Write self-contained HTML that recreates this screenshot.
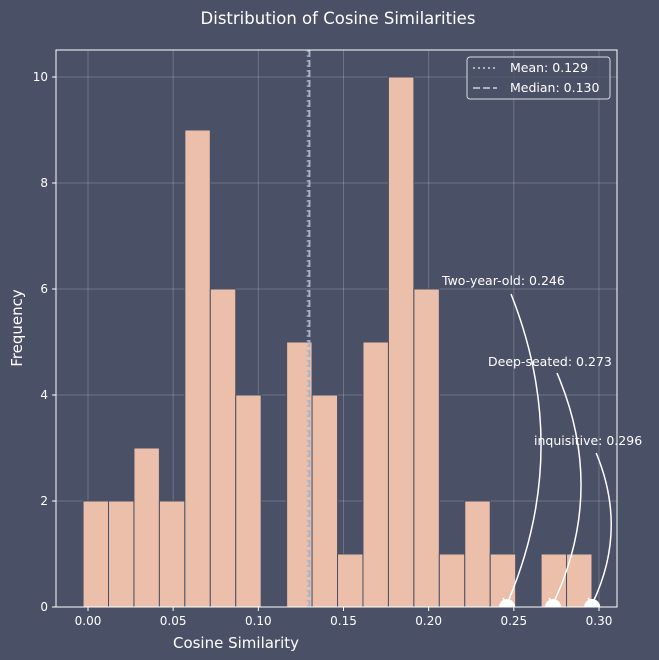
<!DOCTYPE html>
<html><head><meta charset="utf-8"><style>
body{margin:0;background:#4a5066;}
svg{display:block;font-family:"DejaVu Sans","Liberation Sans",sans-serif;}
</style></head><body>
<svg id="c" width="659" height="660">
<rect width="659" height="660" fill="#4a5066"/>
<text x="338" y="24" fill="#ffffff" font-size="16.5" text-anchor="middle">Distribution of Cosine Similarities</text>
<defs><clipPath id="pc"><rect x="56" y="50" width="561" height="557"/></clipPath></defs>
<g id="grid"></g><g id="bars"></g><g id="lines"></g><g id="ann"></g><g id="axes"></g>
</svg>
<script>
const binCounts=[2,2,3,2,9,6,4,0,5,4,1,5,10,6,1,2,1,0,1,1];
const binStart=-0.0029, binWidth=0.01494;
const xTicks=[0,0.05,0.10,0.15,0.20,0.25,0.30];
const xTickLabels=["0.00","0.05","0.10","0.15","0.20","0.25","0.30"];
const yTicks=[0,2,4,6,8,10];
const meanVal=0.129, medianVal=0.130;
const annLabels=["Two-year-old: 0.246","Deep-seated: 0.273","inquisitive: 0.296"];
const annValues=[0.246,0.273,0.296];
const NS="http://www.w3.org/2000/svg";
const X=v=>88+v*1703.3, Y=v=>607-v*53;
function mk(tag,attrs,parent){const e=document.createElementNS(NS,tag);for(const k in attrs)e.setAttribute(k,attrs[k]);document.getElementById(parent).appendChild(e);return e;}
xTicks.forEach((t,i)=>{
 const l=mk('line',{x1:X(t),x2:X(t),y1:50,y2:607,stroke:'rgba(255,255,255,0.2)'},'grid');
 
 
 const tk=mk('line',{x1:X(t),x2:X(t),y1:607,y2:611,stroke:'#fff'},'axes');
 
 
 const tx=mk('text',{x:X(t),y:625,fill:'#fff','font-size':12,'text-anchor':'middle'},'axes');
 tx.textContent=xTickLabels[i];
 
 
});
yTicks.forEach(t=>{
 const l=mk('line',{x1:56,x2:617,y1:Y(t),y2:Y(t),stroke:'rgba(255,255,255,0.2)'},'grid');
 
 
 const tk=mk('line',{x1:52,x2:56,y1:Y(t),y2:Y(t),stroke:'#fff'},'axes');
 
 
 const tx=mk('text',{x:48,y:Y(t)+4,fill:'#fff','font-size':12,'text-anchor':'end'},'axes');
 tx.textContent=String(t);
 
 
});
binCounts.forEach((c,i)=>{
 if(!c)return;
 const x0=X(binStart+i*binWidth),x1=X(binStart+(i+1)*binWidth);
 const r=mk('rect',{x:x0,y:Y(c),width:x1-x0,height:Y(0)-Y(c),fill:'#ecbfaa',stroke:'#4a5066','stroke-width':1},'bars');
 
 
});
let m=mk('line',{x1:X(meanVal),x2:X(meanVal),y1:50,y2:607,stroke:'#a9b4cc','stroke-width':2,'stroke-dasharray':'2,3','stroke-opacity':0.7},'lines');


let md=mk('line',{x1:X(medianVal),x2:X(medianVal),y1:50,y2:607,stroke:'#a9b4cc','stroke-width':2,'stroke-dasharray':'7,3'},'lines');


const textPos=[[442,285],[488,366],[534,445]];
const startY=[294,373,453], bulge=[32,26,17];
annValues.forEach((v,i)=>{
 const ex=X(v), ey=607, sx=ex+4, sy=startY[i];
 const cx=ex+bulge[i]*2+(sx-ex)*0.5, cy=(sy+ey)/2;
 const p=mk('path',{d:`M${sx},${sy} Q${cx},${cy} ${ex},${ey-3}`,fill:'none',stroke:'#fff','stroke-width':1.5},'ann');
 
 
 const h=mk('path',{d:`M${ex-4},${ey-9} L${ex},${ey-3} L${ex+3},${ey-10}`,fill:'none',stroke:'#fff','stroke-width':1.5},'ann');
 
 
 const d=mk('circle',{cx:ex,cy:ey,r:8,fill:'#fff','clip-path':'url(#pc)'},'ann');
 
 
 const t=mk('text',{x:textPos[i][0],y:textPos[i][1],fill:'#fff','font-size':12.5},'ann');
 t.textContent=annLabels[i];
 
 
});
</script>
<svg style="position:absolute;left:0;top:0" width="659" height="660">
<rect x="56" y="50" width="561" height="557" fill="none" stroke="#fff" stroke-width="1"/>
<text x="236" y="648" fill="#fff" font-size="15" text-anchor="middle" font-family="DejaVu Sans,sans-serif">Cosine Similarity</text>
<text transform="translate(22,328) rotate(-90)" fill="#fff" font-size="15" text-anchor="middle" font-family="DejaVu Sans,sans-serif">Frequency</text>
<g>
<rect x="467" y="57" width="143" height="42" rx="3" fill="#4a5066" fill-opacity="0.8" stroke="#d8dbe4"/>
<line x1="473" x2="497" y1="68" y2="68" stroke="#a9b4cc" stroke-width="2" stroke-dasharray="2,3"/>
<text x="510" y="72" fill="#fff" font-size="12.5" font-family="DejaVu Sans,sans-serif">Mean: 0.129</text>
<line x1="473" x2="497" y1="88" y2="88" stroke="#a9b4cc" stroke-width="2" stroke-dasharray="7,3"/>
<text x="510" y="92" fill="#fff" font-size="12.5" font-family="DejaVu Sans,sans-serif">Median: 0.130</text>
</g>
</svg>
</body></html>
